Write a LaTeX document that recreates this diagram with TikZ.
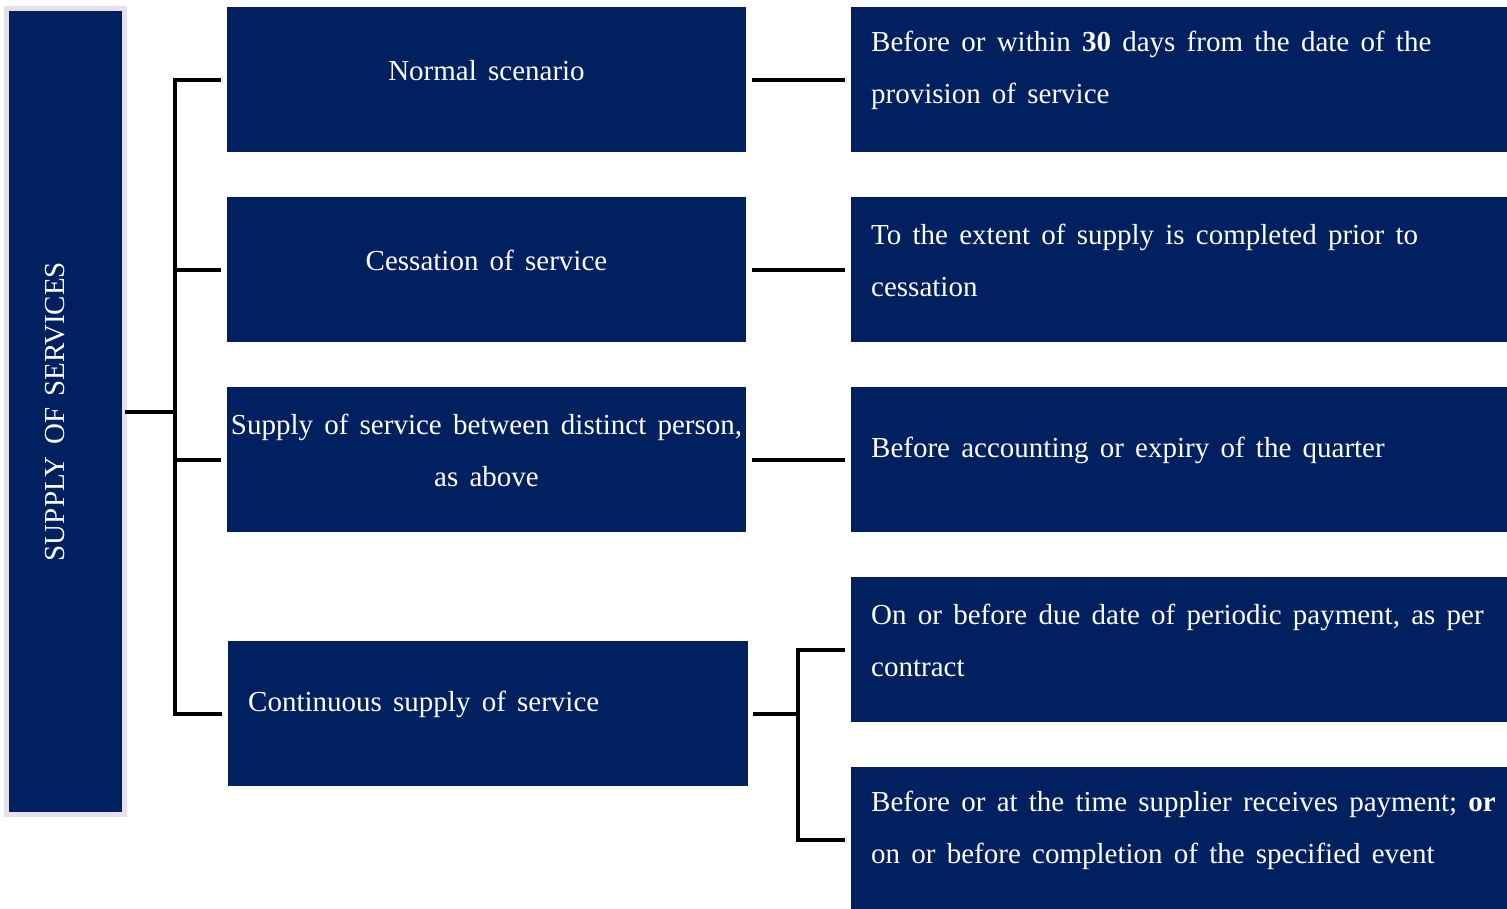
\documentclass[tikz,border=0pt]{standalone}
\usepackage{fontspec}
\setmainfont[WordSpace=1.55]{Liberation Serif}
\usetikzlibrary{positioning}
\definecolor{navy}{RGB}{0,32,96}
\definecolor{lavender}{RGB}{230,224,236}

\tikzset{
    bluebox/.style={fill=navy, inner sep=0pt, outer sep=0pt, anchor=north west,
        minimum height=145pt},
    midbox/.style={bluebox, minimum width=519pt},
    rightbox/.style={bluebox, minimum width=656pt},
    boxtext/.style={text=white, inner sep=0pt, font=\fontsize{29}{52}\selectfont},
    conn/.style={line width=4pt, black}
}

\begin{document}
\begin{tikzpicture}[x=1pt, y=-1pt]
    \useasboundingbox[fill=white] (0,0) rectangle (1507,908);

    % left column
    \node[fill=navy, draw=lavender, line width=5pt, inner sep=0pt, outer sep=0pt,
        minimum width=118pt, minimum height=806pt, anchor=north west] (supply) at (6.5,8.5) {};
    \node[boxtext, rotate=90, font=\fontsize{29}{34}\selectfont] (supply-t)
        at ([xshift=-10pt]supply.center) {SUPPLY OF SERVICES};

    % middle column
    \node[midbox] (normal) at (227,7) {};
    \node[midbox] (cessation) at (227,197) {};
    \node[midbox] (distinct) at (227,387) {};
    \node[midbox, minimum width=520pt] (cont) at (228,641) {};

    \node[boxtext, align=center] (normal-t) at ([yshift=9pt]normal.center) {Normal scenario};
    \node[boxtext, align=center] (cessation-t) at ([yshift=9pt]cessation.center) {Cessation of service};
    \node[boxtext, align=center] (distinct-t) at ([yshift=9pt]distinct.center)
        {Supply of service between distinct person,\\ as above};
    \node[boxtext, anchor=west] (cont-t) at ([xshift=20pt, yshift=9pt]cont.west)
        {Continuous supply of service};

    % right column
    \node[rightbox] (days) at (851,7) {};
    \node[rightbox] (extent) at (851,197) {};
    \node[rightbox] (quarter) at (851,387) {};
    \node[rightbox] (periodic) at (851,577) {};
    \node[rightbox] (event) at (851,767) {};

    \node[boxtext, anchor=west, align=left] (days-t) at ([xshift=20pt, yshift=9pt]days.west)
        {Before or within \textbf{30} days from the date of the\\ provision of service};
    \node[boxtext, anchor=west, align=left] (extent-t) at ([xshift=20pt, yshift=9pt]extent.west)
        {To the extent of supply is completed prior to\\ cessation};
    \node[boxtext, anchor=west, align=left] (quarter-t) at ([xshift=20pt, yshift=9pt]quarter.west)
        {Before accounting or expiry of the quarter};
    \node[boxtext, anchor=west, align=left] (periodic-t) at ([xshift=20pt, yshift=9pt]periodic.west)
        {On or before due date of periodic payment, as per\\ contract};
    \node[boxtext, anchor=west, align=left] (event-t) at ([xshift=20pt, yshift=9pt]event.west)
        {Before or at the time supplier receives payment; \textbf{or}\\ on or before completion of the specified event};

    % connectors, left
    \coordinate (trunk) at (175,0);
    \draw[conn] (supply.east) -- (trunk |- supply.east);
    \draw[conn] ([xshift=-6pt]normal.west) -| (trunk |- cont.west) -- ([xshift=-6pt]cont.west);
    \draw[conn, shorten >=6pt] (trunk |- cessation.west) -- (cessation.west);
    \draw[conn, shorten >=6pt] (trunk |- distinct.west) -- (distinct.west);

    % connectors, right
    \draw[conn, shorten <=6pt, shorten >=6pt] (normal.east) -- (days.west);
    \draw[conn, shorten <=6pt, shorten >=6pt] (cessation.east) -- (extent.west);
    \draw[conn, shorten <=6pt, shorten >=6pt] (distinct.east) -- (quarter.west);
    \coordinate (fork) at (798,0);
    \draw[conn, shorten <=5pt] (cont.east) -- (fork |- cont.east);
    \draw[conn] ([xshift=-6pt]periodic.west) -| (fork |- event.west) -- ([xshift=-6pt]event.west);
\end{tikzpicture}
\end{document}
